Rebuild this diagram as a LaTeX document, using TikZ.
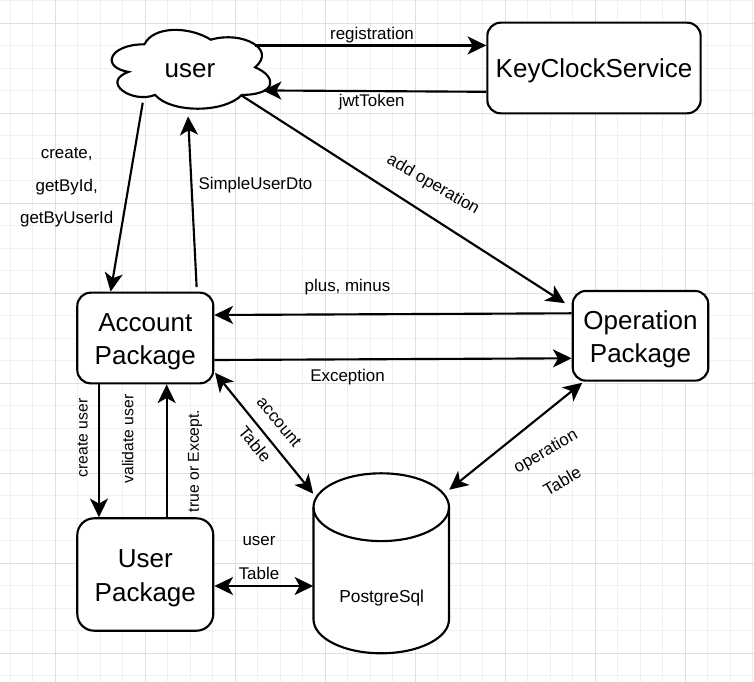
\documentclass[tikz,border=0pt]{standalone}
\usepackage{fontspec}
\setmainfont{Liberation Sans}
\usetikzlibrary{arrows.meta,calc}
\definecolor{gminor}{HTML}{F0F0F0}
\definecolor{gmajor}{HTML}{DFDFDF}
\begin{document}
\begin{tikzpicture}[x=0.75pt,y=-0.75pt,
  >={Stealth[length=14pt,width=13.5pt,inset=3.8pt]},
  conn/.style={line width=1.6pt,->},
  conn2/.style={line width=1.6pt,<->},
  outline/.style={draw,line width=1.6pt,fill=white},
  box/.style={draw,line width=1.6pt,fill=white,rounded corners=10pt,inner sep=0pt},
  boxtext/.style={font=\fontsize{19.5pt}{25pt}\selectfont,align=center,inner sep=0pt,yshift=-2.8pt},
  anchorbox/.style={inner sep=0pt},
  lab/.style={font=\fontsize{12.7pt}{24.5pt}\selectfont,align=center,inner sep=0pt},
  vlab/.style={font=\fontsize{11.8pt}{14pt}\selectfont,rotate=90,inner sep=0pt},
  gridminorline/.style={draw=gminor,line width=0.75pt},
  gridmajorline/.style={draw=gmajor,line width=0.75pt}
]
\useasboundingbox (0,0) rectangle (754,682);
\fill[white] (0,0) rectangle (754,682);
% grid
\foreach \gx in {10.3,32.8,...,754} \draw[gridminorline] (\gx,0) -- (\gx,682);
\foreach \gy in {0.8,23.3,...,682} \draw[gridminorline] (0,\gy) -- (754,\gy);
\foreach \gx in {55.3,145.3,...,754} \draw[gridmajorline] (\gx,0) -- (\gx,682);
\foreach \gy in {23.3,113.3,...,682} \draw[gridmajorline] (0,\gy) -- (754,\gy);

% cloud
\path[outline] (144.45,44.3) .. controls (109.05,44.3) and (100.2,67.3) .. (128.52,71.9)
  .. controls (100.2,82.02) and (132.06,104.1) .. (155.07,94.9)
  .. controls (171,113.3) and (224.1,113.3) .. (241.8,94.9)
  .. controls (277.2,94.9) and (277.2,76.5) .. (255.08,67.3)
  .. controls (277.2,48.9) and (241.8,30.5) .. (210.83,39.7)
  .. controls (188.7,25.9) and (153.3,25.9) .. (144.45,44.3) -- cycle;
\node[anchorbox,minimum width=132.75pt,minimum height=69pt,
  label={[boxtext,yshift=0.6pt,xshift=1pt]center:user}] (cl) at (188.7,67.3) {};

% cylinder
\path[outline] (313.5,507.2) .. controls (313.5,488.48) and (343.83,473.3) .. (381.25,473.3)
  .. controls (418.67,473.3) and (449,488.48) .. (449,507.2)
  -- (449,619.4) .. controls (449,638.12) and (418.67,653.3) .. (381.25,653.3)
  .. controls (343.83,653.3) and (313.5,638.12) .. (313.5,619.4) -- cycle;
\draw[line width=1.6pt] (313.5,507.2) .. controls (313.5,525.92) and (343.83,541.1) .. (381.25,541.1)
  .. controls (418.67,541.1) and (449,525.92) .. (449,507.2);
\node[anchorbox,minimum width=101.6pt,minimum height=135pt] (db) at (381.25,563.3) {};
\node[lab,font=\fontsize{13pt}{16pt}\selectfont] (dbtext) at (381.7,598) {PostgreSql};

% boxes
\node[box,minimum width=160pt,minimum height=68pt,
  label={[boxtext,yshift=0.6pt]center:KeyClockService}] (kc) at (594,68) {};
\node[box,minimum width=102pt,minimum height=68pt,
  label={[boxtext]center:{Account\\Package}}] (acc) at (145.3,338) {};
\node[box,minimum width=101.7pt,minimum height=67.3pt,
  label={[boxtext]center:{Operation\\Package}}] (op) at (640.5,335.8) {};
\node[box,rounded corners=12.6pt,minimum width=102pt,minimum height=84.3pt,
  label={[boxtext]center:{User\\Package}}] (up) at (145.3,574.5) {};

% connectors
\draw[conn] ($(cl.north west)+(154.8,24.4)$) coordinate (r1) -- (kc.west |- r1);
\draw[conn] ($(kc.south west)+(0,-22.6)$) -- ($(cl.north west)+(162.8,69.4)$);
\draw[conn] ($(cl.north west)+(42.8,81.7)$) -- ($(acc.north west)+(34.4,0)$);
\draw[conn] ($(acc.north west)+(120.4,-4.5)$) -- ($(cl.north west)+(88.1,95.4)$);
\draw[conn] ($(cl.north west)+(141.5,74.4)$) -- ($(op.north west)+(-6.7,13.3)$);
\draw[conn] ($(op.west)+(0,-22.5)$) -- ($(acc.east)+(0,-23)$);
\draw[conn] ($(acc.east)+(0,22)$) -- ($(op.west)+(0,22.5)$);
\draw[conn2] ($(acc.south east)+(0.7,-11.6)$) -- ($(db.north west)+(0,20.7)$);
\draw[conn2] ($(op.south west)+(10.6,1)$) -- ($(db.north east)+(0,16.7)$);
\draw[conn] ($(acc.south west)+(22.7,0)$) -- ($(up.north west)+(22.7,0)$);
\draw[conn] ($(up.north west)+(90.4,0)$) -- ($(acc.south west)+(90.4,0)$);
\draw[conn2] ($(up.east)+(0,11.5)$) coordinate (ut) -- (db.west |- ut);

% labels
\node[lab] (lreg) at (372,35) {registration};
\node[lab] (ljwt) at (371.7,102) {jwtToken};
\node[lab] (lsud) at (255.5,185) {SimpleUserDto};
\node[lab] (lcreate) at (66.7,187.5) {create,\\getById,\\getByUserId};
\node[lab,rotate=-30] (ladd) at (433,185) {add operation};
\node[lab] (lplus) at (347.5,287) {plus, minus};
\node[lab] (lexc) at (347.5,377) {Exception};
\node[lab,rotate=-50] (lacct1) at (279,422) {account};
\node[lab,rotate=-50] (lacct2) at (255,444) {Table};
\node[vlab] (lcu) at (82.7,438) {create user};
\node[vlab] (lvu) at (127.7,439) {validate user};
\node[vlab] (lte) at (195,461) {true or Except.};
\node[lab] (lut1) at (259,541) {user};
\node[lab] (lut2) at (259,573) {Table};
\node[lab,rotate=30] (lopt1) at (546,452) {operation};
\node[lab,rotate=30] (lopt2) at (562,481) {Table};
\end{tikzpicture}
\end{document}
